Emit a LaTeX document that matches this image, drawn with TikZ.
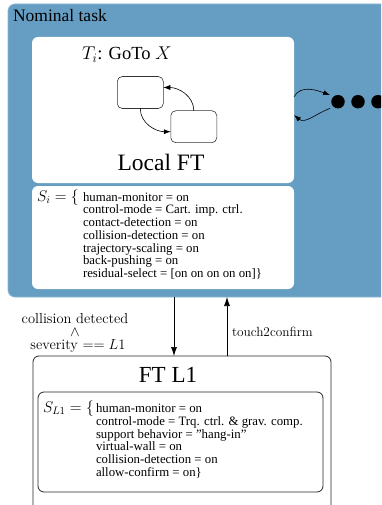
\RequirePackage{fix-cm}
\documentclass[tikz,border=0pt]{standalone}
\usepackage{fontspec}
\setmainfont{Liberation Serif}
\usetikzlibrary{positioning,arrows.meta}
\definecolor{taskblue}{RGB}{102,157,194}
\begin{document}
\begin{tikzpicture}[x=1pt,y=1pt,
  every node/.style={inner sep=0pt,outer sep=0pt},
  panel/.style={fill=white,rounded corners=6pt,anchor=north west},
  statebox/.style={draw=black!80,line width=0.6pt,fill=white,rounded corners=5pt,minimum width=46pt,minimum height=32pt},
  ftbox/.style={draw=black!85,line width=0.8pt,rounded corners=6pt,anchor=north west},
  listtxt/.style={font=\fontsize{12.8}{12.75}\selectfont,anchor=base west},
  setlabel/.style={font=\fontsize{15.5}{16}\selectfont,anchor=base west},
  lmlabel/.style={font=\fontfamily{lmr}\fontsize{14.5}{13}\selectfont},
  dot/.style={circle,fill=black,minimum size=13.5pt,outer sep=3.5pt},
  arr/.style={-{Latex[length=7pt,width=5pt]},line width=0.6pt},
  bigarr/.style={-{Latex[length=9pt,width=6pt]},line width=0.7pt}]
\useasboundingbox (0,0) rectangle (381,-505);
\clip (0,0) rectangle (381,-505);
% Nominal task
\node[fill=taskblue,draw=taskblue!75!white,line width=0.8pt,rounded corners=7pt,anchor=north west,minimum width=400pt,minimum height=293pt] (task) at (8,-4) {};
\node[anchor=base west,font=\fontsize{17.5}{20}\selectfont] (tasktitle) at (13,-22) {Nominal task};
% Local FT
\node[panel,minimum width=262pt,minimum height=146pt] (local) at (32,-37) {};
\node[anchor=base west,font=\fontsize{18.5}{20}\selectfont] (goto) at (82,-60) {$T_i$: GoTo $X$};
\node[statebox] (s1) at (140.3,-92.5) {};
\node[statebox] (s2) at (193.8,-126.7) {};
\draw[arr] (s2.north) to[out=90,in=0] ([yshift=5pt]s1.east);
\draw[arr] (s1.south) to[out=-90,in=180] ([yshift=-5pt]s2.west);
\node[anchor=base,font=\fontsize{23.5}{26}\selectfont] (localft) at (161,-170) {Local FT};
% S_i
\node[panel,minimum width=262pt,minimum height=103pt] (sipanel) at (32,-186) {};
\node[setlabel] (silabel) at (37,-201) {$S_i = \{$};
\node[listtxt] (silist) at (83,-201) {\begin{tabular}[t]{@{}l@{}}
human-monitor = on\\
control-mode = Cart. imp. ctrl.\\
contact-detection = on\\
collision-detection = on\\
trajectory-scaling = on\\
back-pushing = on\\
residual-select = [on on on on on]\}
\end{tabular}};
% other tasks
\foreach \k in {1,2,3} \node[dot] (d\k) at ({318+20*\k},-101.7) {};
\draw[arr] ([yshift=13.3pt]local.east) to[out=60,in=160] (d1.140);
\draw[arr] (d1.220) to[out=200,in=-40] ([yshift=-5pt]local.east);
% FT L1
\node[ftbox,minimum width=298pt,minimum height=170pt] (ft) at (33,-356) {};
\node[anchor=base,font=\fontsize{23}{26}\selectfont] (ftlabel) at (168,-382) {FT L1};
\node[ftbox,minimum width=285pt,minimum height=100pt] (slpanel) at (38,-392) {};
\node[setlabel] (sllabel) at (43,-412.5) {$S_{L1} = \{$};
\node[listtxt] (sllist) at (96,-412.5) {\begin{tabular}[t]{@{}l@{}}
human-monitor = on\\
control-mode = Trq. ctrl. \& grav. comp.\\
support behavior = ''hang-in''\\
virtual-wall = on\\
collision-detection = on\\
allow-confirm = on\}
\end{tabular}};
% transitions
\coordinate (downend) at ([xshift=-8pt]ft.north);
\coordinate (upstart) at ([xshift=45pt]ft.north);
\draw[bigarr] (task.south -| downend) -- (downend);
\draw[bigarr] (upstart) -- (task.south -| upstart);
\node[lmlabel,align=center] (cond) at (75,-333) {collision detected\\$\wedge$\\\hspace*{6pt}severity $== L1$};
\node[lmlabel,font=\fontfamily{lmr}\fontsize{13.3}{15}\selectfont,anchor=base west] (confirm) at (232,-336.7) {touch2confirm};
\end{tikzpicture}
\end{document}
